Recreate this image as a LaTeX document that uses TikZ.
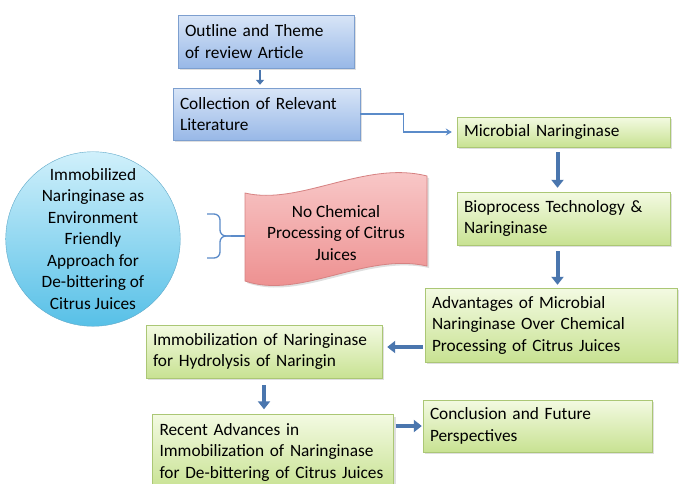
\documentclass[tikz,border=0pt]{standalone}
\usepackage{fontspec}
\setmainfont{Carlito}
\usetikzlibrary{arrows.meta, positioning, calc, shadows}

\definecolor{bluetop}{HTML}{D8E5F7}
\definecolor{bluebot}{HTML}{98B8E7}
\definecolor{blueedge}{HTML}{7D9FCF}
\definecolor{greentop}{HTML}{F3FAE2}
\definecolor{greenbot}{HTML}{C8E292}
\definecolor{greenedge}{HTML}{ABC775}
\definecolor{circletop}{HTML}{D0F0FB}
\definecolor{circlebot}{HTML}{57C0E7}
\definecolor{circleedge}{HTML}{5FA9C9}
\definecolor{pinktop}{HTML}{F9CDCD}
\definecolor{pinkbot}{HTML}{EC8A8A}
\definecolor{pinkedge}{HTML}{D68282}
\definecolor{arrowblue}{HTML}{4A76AE}
\definecolor{linkblue}{HTML}{5B8BC9}

\begin{document}
\begin{tikzpicture}[x=1pt, y=-1pt,
    every node/.style={font=\fontsize{17.3}{21.5}\selectfont},
    flowbox/.style={rectangle, inner xsep=7pt, inner ysep=3pt, align=left,
        drop shadow={shadow xshift=2pt, shadow yshift=-2pt, opacity=0.25}},
    bluebox/.style={flowbox, draw=blueedge, top color=bluetop, bottom color=bluebot},
    greenbox/.style={flowbox, draw=greenedge, top color=greentop, bottom color=greenbot},
    bigarrow/.style={draw=arrowblue, line width=4pt, -{Triangle[width=12pt, length=8pt]}},
    smallarrow/.style={draw=arrowblue, line width=2.5pt, -{Triangle[width=8pt, length=5pt]}},
    linkarrow/.style={draw=linkblue, line width=1.2pt, -{Stealth[width=7pt, length=6pt]}},
    bracket/.style={draw=linkblue, line width=1.3pt, rounded corners=6pt}
]
    % Fondo e ritaglio
    \fill[white] (0,0) rectangle (679,483);
    \clip (0,0) rectangle (679,483);

    % Blocchi blu
    \node[bluebox, text width=162pt, minimum height=53pt] (outline) at (266,41.5) {Outline and Theme\\of review Article};
    \node[bluebox, text width=173pt, minimum height=52pt] (literature) at (266.5,114) {Collection of Relevant\\Literature};

    % Blocchi verdi
    \node[greenbox, text width=199pt, minimum height=30pt] (microbial) at (563.5,132) {Microbial Naringinase};
    \node[greenbox, text width=199pt, minimum height=53pt] (bioprocess) at (563.5,218.5) {Bioprocess Technology \&\\Naringinase};
    \node[greenbox, text width=238pt, minimum height=74pt] (advantages) at (551,325) {Advantages of Microbial\\Naringinase Over Chemical\\Processing of Citrus Juices};
    \node[greenbox, text width=222pt, minimum height=53pt] (immobilization) at (264,351.5) {Immobilization of Naringinase\\for Hydrolysis of Naringin};
    \node[greenbox, text width=227pt, minimum height=75pt] (advances) at (273,452) {Recent Advances in\\Immobilization of Naringinase\\for De-bittering of Citrus Juices};
    \node[greenbox, text width=215pt, minimum height=52pt] (conclusion) at (537.5,426) {Conclusion and Future\\Perspectives};

    % Cerchio
    \node[circle, minimum size=174pt, inner sep=0pt, align=center, draw=circleedge,
          top color=circletop, bottom color=circlebot]
          (ecofriendly) at (93,239) {Immobilized\\Naringinase as\\Environment\\Friendly\\Approach for\\De-bittering of\\Citrus Juices};

    % Bandiera rosa
    \draw[draw=pinkedge, line width=0.8pt, top color=pinktop, bottom color=pinkbot,
          drop shadow={shadow xshift=2pt, shadow yshift=-2pt, opacity=0.25}]
        (245,193) .. controls (300,206) and (365,160) .. (427,176)
        -- (427,266) .. controls (365,252) and (300,300) .. (245,281) -- cycle;
    \node[align=center] (nochemical) at (336,233) {No Chemical\\Processing of Citrus\\Juices};
    \coordinate (flagin) at (245,236);

    % Parentesi graffa
    \coordinate (bracetop) at (207,214);
    \coordinate (bracebot) at (207,258);
    \draw[bracket] (bracetop) -- (220,214) -- (220,236) -- (232,236);
    \draw[bracket] (bracebot) -- (220,258) -- (220,236) -- (232,236);
    \draw[draw=linkblue, line width=1.3pt] (231,236) -- (flagin);

    % Frecce
    \draw[smallarrow, shorten <=2pt, shorten >=3pt] ([xshift=-6pt]outline.south) -- ([xshift=-6pt]outline.south |- literature.north);
    \draw[linkarrow, shorten >=5pt] (literature.east) -- ++(43,0) |- (microbial.west);
    \draw[bigarrow, shorten <=5pt, shorten >=4pt] ([xshift=-6pt]microbial.south) -- ([xshift=-6pt]microbial.south |- bioprocess.north);
    \draw[bigarrow, shorten <=6pt, shorten >=3pt] ([xshift=-6pt]bioprocess.south) -- ([xshift=-6pt]bioprocess.south |- advantages.north);
    \draw[bigarrow, shorten <=2pt, shorten >=5pt] (advantages.west |- 0,347) -- (immobilization.east |- 0,347);
    \draw[bigarrow, shorten <=7pt, shorten >=5pt] (immobilization.south) -- (immobilization.south |- advances.north);
    \draw[bigarrow, shorten <=2pt, shorten >=1pt] (advances.east |- conclusion.west) -- (conclusion.west);
\end{tikzpicture}
\end{document}
